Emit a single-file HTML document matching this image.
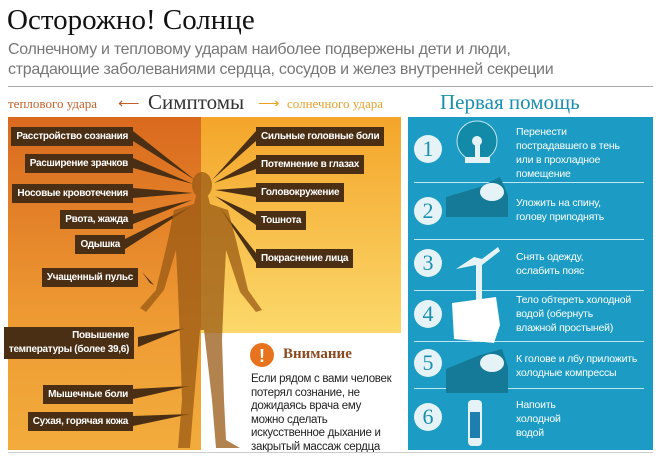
<!DOCTYPE html>
<html><head><meta charset="utf-8"><style>
*{margin:0;padding:0;box-sizing:border-box}
body{width:660px;height:458px;background:#fff;position:relative;overflow:hidden;font-family:"Liberation Sans",sans-serif}
.a{position:absolute;white-space:nowrap}
.lab{position:absolute;background:#4a2f14;color:#fff;font-weight:bold;font-size:10px;letter-spacing:-0.3px;height:19px;line-height:19px;padding:0 5px;white-space:nowrap}
.l{right:527px}
.bt{position:absolute;left:516px;color:#fff;font-size:10.5px;line-height:14px;letter-spacing:-0.2px}
.num{position:absolute;left:414px;width:28px;height:28px;border-radius:50%;background:#e6f3f6;color:#1a8fb0;font-family:"Liberation Serif",serif;font-size:22px;text-align:center;line-height:28px}
.sep{position:absolute;left:414px;width:230px;height:1px;background:#bfe6f0}
</style></head><body>
<div class="a" style="left:7px;top:4px;font-family:'Liberation Serif',serif;font-size:29px;color:#111">Осторожно! Солнце</div>
<div class="a" style="left:8px;top:40px;font-size:16px;line-height:20px;color:#777;letter-spacing:-0.3px">Солнечному и тепловому ударам наиболее подвержены дети и люди,<br>страдающие заболеваниями сердца, сосудов и желез внутренней секреции</div>
<div class="a" style="left:8px;top:86px;width:645px;height:1px;background:#aaa"></div>
<div class="a" style="left:8px;top:96px;font-family:'Liberation Serif',serif;font-size:13px;color:#c0622a">теплового удара</div>
<div class="a" style="left:118px;top:94px;font-size:15px;color:#c0622a">⟵</div>
<div class="a" style="left:148px;top:90px;font-family:'Liberation Serif',serif;font-size:21px;color:#333">Симптомы</div>
<div class="a" style="left:258px;top:94px;font-size:15px;color:#f0a020">⟶</div>
<div class="a" style="left:287px;top:96px;font-family:'Liberation Serif',serif;font-size:13px;color:#e8a030">солнечного удара</div>
<div class="a" style="left:440px;top:90px;font-family:'Liberation Serif',serif;font-size:21px;color:#1a8fb0">Первая помощь</div>

<div class="a" style="left:8px;top:117px;width:193px;height:333px;background:linear-gradient(#d9691e,#ee9a33 60%,#f2ac3c)"></div>
<div class="a" style="left:201px;top:117px;width:200px;height:216px;background:linear-gradient(#f4a52a,#fbd86a)"></div>

<svg class="a" style="left:0;top:0" width="660" height="458">
<g fill="#4a2f14">
<polygon points="133,131 195,180 133,141"/>
<polygon points="133,158 193,184 133,168"/>
<polygon points="133,188 193,193 133,198"/>
<polygon points="133,214 192,200 133,224"/>
<polygon points="125,239 192,206 125,249"/>
<polygon points="142,272 150,283 154,285"/>
<polygon points="138,337 185,328 138,347"/>
<polygon points="133,389 190,386 133,399"/>
<polygon points="133,416 190,414 133,426"/>
<polygon points="256,131 212,180 256,141"/>
<polygon points="256,159 214,183 256,169"/>
<polygon points="256,187 215,190 256,197"/>
<polygon points="256,215 215,196 256,225"/>
<polygon points="256,253 220,208 256,263"/>
</g>
<g fill="#9a5a14" opacity="0.75">
<ellipse cx="202" cy="185" rx="10" ry="13"/>
<path d="M196,196 L208,196 L210,204 L228,210 L236,240 L248,290 L262,310 L256,312 L240,292 L226,250 L224,290 L222,340 L224,400 L226,440 L240,448 L216,448 L212,400 L204,330 L200,330 L194,400 L190,448 L178,448 L182,400 L180,340 L178,290 L176,250 L164,290 L146,312 L140,308 L156,290 L168,240 L174,210 L194,204 Z"/>
</g>
<circle cx="262" cy="355" r="12" fill="#e8731e"/>
<text x="262" y="362" fill="#fff" font-size="18" font-weight="bold" text-anchor="middle" font-family="Liberation Sans">!</text>
</svg>

<div class="lab l" style="top:127px">Расстройство сознания</div>
<div class="lab l" style="top:154px">Расширение зрачков</div>
<div class="lab l" style="top:184px">Носовые кровотечения</div>
<div class="lab l" style="top:210px">Рвота, жажда</div>
<div class="lab" style="right:535px;top:235px">Одышка</div>
<div class="lab" style="right:522px;top:268px">Учащенный пульс</div>
<div class="lab" style="right:526px;top:327px;height:32px;line-height:14px;padding-top:2px;text-align:right">Повышение<br>температуры (более 39,6)</div>
<div class="lab l" style="top:385px">Мышечные боли</div>
<div class="lab l" style="top:412px">Сухая, горячая кожа</div>
<div class="lab" style="left:256px;top:127px">Сильные головные боли</div>
<div class="lab" style="left:256px;top:155px">Потемнение в глазах</div>
<div class="lab" style="left:256px;top:183px">Головокружение</div>
<div class="lab" style="left:256px;top:211px">Тошнота</div>
<div class="lab" style="left:256px;top:249px">Покраснение лица</div>

<div class="a" style="left:283px;top:346px;font-family:'Liberation Serif',serif;font-size:15px;font-weight:bold;color:#8a4a20">Внимание</div>
<div class="a" style="left:251px;top:373px;font-size:11.5px;line-height:13.5px;color:#222;letter-spacing:-0.3px">Если рядом с вами человек<br>потерял сознание, не<br>дожидаясь врача ему<br>можно сделать<br>искусственное дыхание и<br>закрытый массаж сердца</div>

<div class="a" style="left:408px;top:117px;width:245px;height:333px;background:#1c9cc4"></div>
<div class="sep" style="top:182px"></div><div class="sep" style="top:239px"></div><div class="sep" style="top:290px"></div><div class="sep" style="top:341px"></div><div class="sep" style="top:388px"></div>
<div class="num" style="top:135px">1</div><div class="num" style="top:197px">2</div><div class="num" style="top:249px">3</div><div class="num" style="top:300px">4</div><div class="num" style="top:349px">5</div><div class="num" style="top:403px">6</div>
<svg class="a" style="left:400px;top:117px" width="120" height="333">
<circle cx="77" cy="24" r="20" fill="#138aa8" stroke="#bfe6f0" stroke-width="1"/><circle cx="77" cy="24" r="5" fill="#e6f3f6"/><rect x="75" y="28" width="5" height="14" fill="#e6f3f6"/><rect x="65" y="40" width="25" height="6" fill="#e6f3f6"/>
<path d="M46,80 L80,70 L100,60 L108,78 L108,100 L46,100 Z" fill="#157a97"/><ellipse cx="92" cy="75" rx="12" ry="9" fill="#e6f3f6"/>
<path d="M56,152 L74,140 L82,142 L98,130 L100,134 L82,148 L82,184 L76,184 L76,148 Z" fill="#e6f3f6"/>
<path d="M52,186 L96,180 L100,208 L94,226 L54,222 Z" fill="#fff"/>
<path d="M46,252 L80,238 L102,232 L108,250 L108,276 L46,276 Z" fill="#157a97"/><ellipse cx="92" cy="246" rx="12" ry="9" fill="#e6f3f6"/>
<rect x="68" y="283" width="14" height="46" rx="4" fill="#e6f3f6"/><rect x="70" y="295" width="10" height="26" fill="#1c7fae"/>
</svg>
<div class="bt" style="top:125px">Перенести<br>пострадавшего в тень<br>или в прохладное<br>помещение</div>
<div class="bt" style="top:196px">Уложить на спину,<br>голову приподнять</div>
<div class="bt" style="top:250px">Снять одежду,<br>ослабить пояс</div>
<div class="bt" style="top:293px">Тело обтереть холодной<br>водой (обернуть<br>влажной простыней)</div>
<div class="bt" style="top:352px">К голове и лбу приложить<br>холодные компрессы</div>
<div class="bt" style="top:398px">Напоить<br>холодной<br>водой</div>
<div class="a" style="left:8px;top:452px;width:645px;height:1px;background:#ccc"></div>
</body></html>
